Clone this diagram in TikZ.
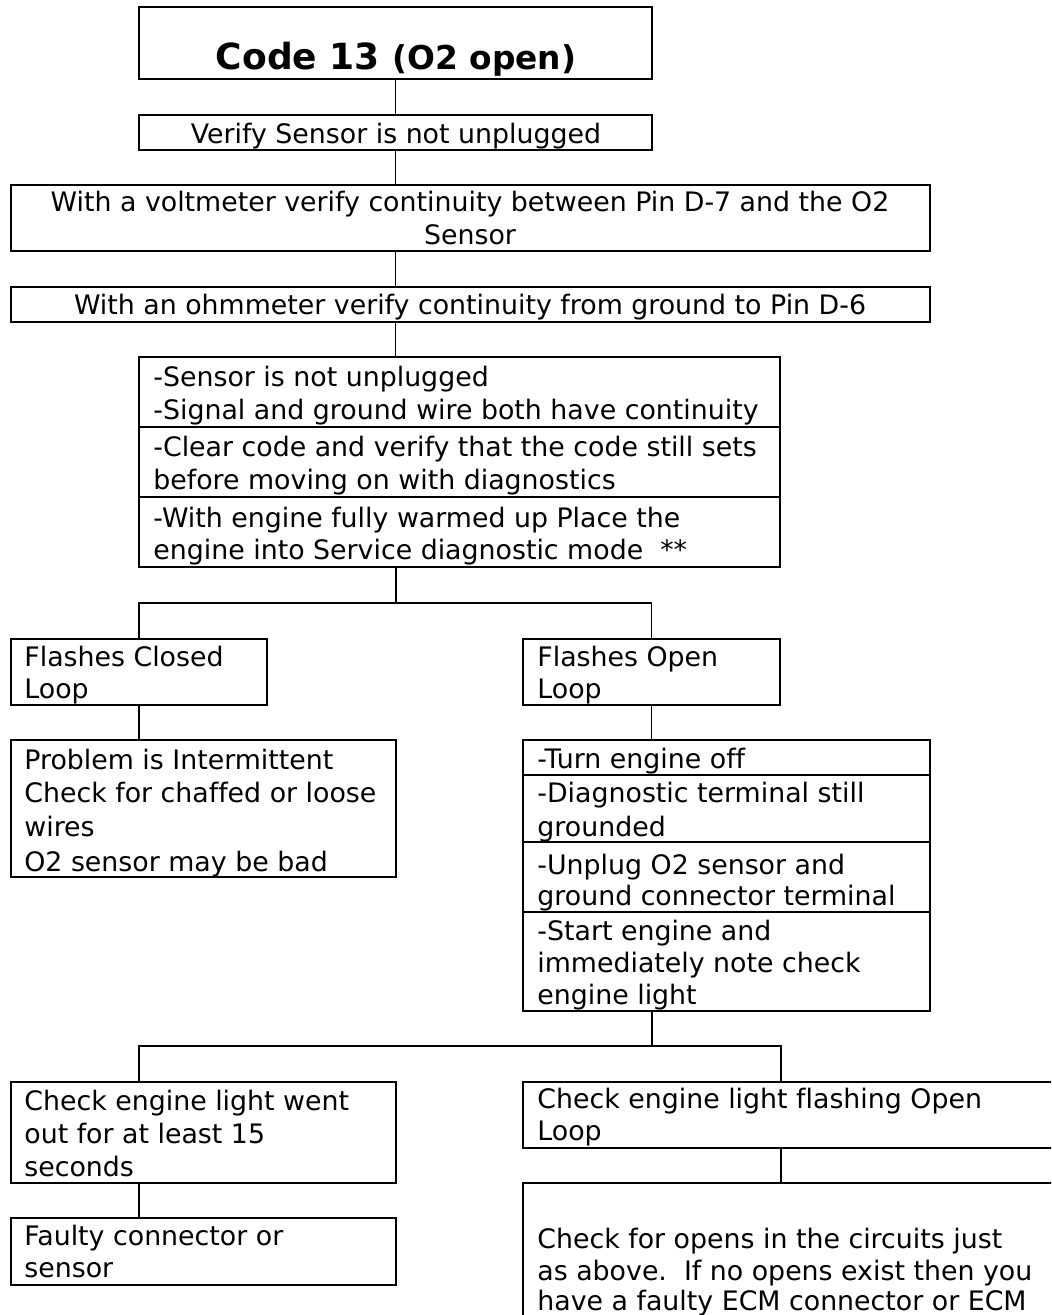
\documentclass[tikz,border=0pt]{standalone}
\usepackage{fontspec}
\setmainfont[Ligatures=NoCommon]{DejaVu Sans}
\usetikzlibrary{fit}

\tikzset{
  box/.style={draw=black, line width=0.85pt, inner sep=0pt, fill=none},
  link/.style={draw=black, line width=0.75pt},
  txt/.style={inner sep=0pt, font=\fontsize{13.4}{16}\selectfont},
  ltxt/.style={txt, anchor=base west},
  ctxt/.style={txt, anchor=base}
}

\begin{document}
\begin{tikzpicture}[x=0.5pt, y=-0.5pt]
  \clip (0,0) rectangle (1051,1315);
  \fill[white] (0,0) rectangle (1051,1315);

  % ---------- main column ----------
  \node[box, fit={(139,7) (652,79)}]   (b1) {};
  \node[box, fit={(139,115) (652,150)}] (b2) {};
  \node[box, fit={(11,185) (930,251)}]  (b3) {};
  \node[box, fit={(11,287) (930,322)}]  (b4) {};
  \node[box, fit={(139,357) (780,427)}] (b5a) {};
  \node[box, fit={(139,427) (780,497)}] (b5b) {};
  \node[box, fit={(139,497) (780,567)}] (b5c) {};

  \node[inner sep=0pt, anchor=base] (t1) at (396,70)
    {\bfseries\fontsize{18}{20}\selectfont Code 13 \fontsize{16.4}{18}\selectfont (O2 open)};
  \node[ctxt] (t2) at (396,144) {Verify Sensor is not unplugged};
  \node[ctxt] (t3a) at (470,212) {With a voltmeter verify continuity between Pin D-7 and the O2};
  \node[ctxt] (t3b) at (470,245) {Sensor};
  \node[ctxt] (t4) at (470,315) {With an ohmmeter verify continuity from ground to Pin D-6};
  \node[ltxt] (t5a) at (153,387) {-Sensor is not unplugged};
  \node[ltxt] (t5b) at (153,420) {-Signal and ground wire both have continuity};
  \node[ltxt] (t5c) at (153,457) {-Clear code and verify that the code still sets};
  \node[ltxt] (t5d) at (153,489) {before moving on with diagnostics};
  \node[ltxt] (t5e) at (153,527) {-With engine fully warmed up Place the};
  \node[ltxt] (t5f) at (153,559) {engine into Service diagnostic mode\ \ **};

  % ---------- first branch ----------
  \node[box, fit={(11,639) (267,705)}]  (fc) {};
  \node[box, fit={(523,639) (780,705)}] (fo) {};
  \node[box, fit={(11,740) (396,877)}]  (pb) {};
  \node[box, fit={(523,740) (930,775)}] (r1) {};
  \node[box, fit={(523,775) (930,842)}] (r2) {};
  \node[box, fit={(523,842) (930,912)}] (r3) {};
  \node[box, fit={(523,912) (930,1011)}] (r4) {};

  \node[ltxt] (tfc1) at (24,666) {Flashes Closed};
  \node[ltxt] (tfc2) at (24,698) {Loop};
  \node[ltxt] (tfo1) at (537,666) {Flashes Open};
  \node[ltxt] (tfo2) at (537,698) {Loop};
  \node[ltxt] (tpb1) at (24,769) {Problem is Intermittent};
  \node[ltxt] (tpb2) at (24,802) {Check for chaffed or loose};
  \node[ltxt] (tpb3) at (24,836) {wires};
  \node[ltxt] (tpb4) at (24,871) {O2 sensor may be bad};
  \node[ltxt] (tr1)  at (537,768) {-Turn engine off};
  \node[ltxt] (tr2a) at (537,802) {-Diagnostic terminal still};
  \node[ltxt] (tr2b) at (537,836) {grounded};
  \node[ltxt] (tr3a) at (537,874) {-Unplug O2 sensor and};
  \node[ltxt] (tr3b) at (537,905) {ground connector terminal};
  \node[ltxt] (tr4a) at (537,940) {-Start engine and};
  \node[ltxt] (tr4b) at (537,972) {immediately note check};
  \node[ltxt] (tr4c) at (537,1004) {engine light};

  % ---------- second branch ----------
  \node[box, fit={(11,1082) (396,1183)}]   (ce) {};
  \node[box, fit={(11,1218) (396,1285)}]   (fy) {};
  \node[box, fit={(523,1082) (1070,1148)}] (cl) {};
  \node[box, fit={(523,1183) (1070,1340)}] (ob) {};

  \node[ltxt] (tce1) at (24,1110) {Check engine light went};
  \node[ltxt] (tce2) at (24,1143) {out for at least 15};
  \node[ltxt] (tce3) at (24,1176) {seconds};
  \node[ltxt] (tfy1) at (24,1245) {Faulty connector or};
  \node[ltxt] (tfy2) at (24,1277) {sensor};
  \node[ltxt] (tcl1) at (537,1108) {Check engine light flashing Open};
  \node[ltxt] (tcl2) at (537,1140) {Loop};
  \node[ltxt] (tob1) at (537,1248) {Check for opens in the circuits just};
  \node[ltxt] (tob2) at (537,1280) {as above.\ \ If no opens exist then you};
  \node[ltxt] (tob3) at (537,1310) {have a faulty ECM connector or ECM};

  % ---------- connectors ----------
  \coordinate (j1) at (396,603);
  \coordinate (j2) at (652,1046);

  \draw[link] (b1.south) -- (b2.north);
  \draw[link] (b2.south) -- (b2.south |- b3.north);
  \draw[link] (b2.south |- b3.south) -- (b2.south |- b4.north);
  \draw[link] (b2.south |- b4.south) -- (b2.south |- b5a.north);
  \draw[link] (j1 |- b5c.south) -- (j1);
  \draw[link] (fc.north) |- (j1) -| (fo.north);
  \draw[link] (fc.south) -- (fc.south |- pb.north);
  \draw[link] (fo.south) -- (fo.south |- r1.north);
  \draw[link] (j2 |- r4.south) -- (j2);
  \draw[link] (fc.south |- ce.north) |- (j2) -| (fo.east |- cl.north);
  \draw[link] (fc.south |- ce.south) -- (fc.south |- fy.north);
  \draw[link] (fo.east |- cl.south) -- (fo.east |- ob.north);
\end{tikzpicture}
\end{document}
